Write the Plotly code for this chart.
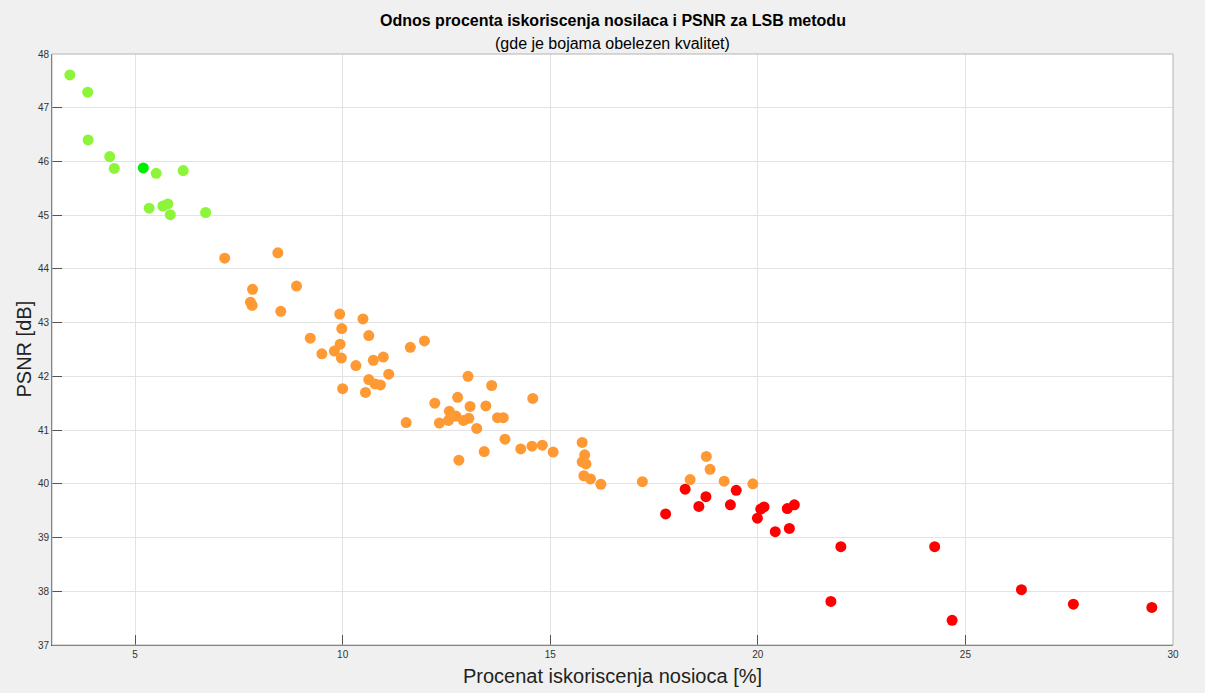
import plotly.graph_objects as go

# ---- data ----
x_green = [3.43, 3.86, 3.87, 4.39, 4.50, 5.51, 6.16, 5.34, 5.67, 5.79, 5.85, 6.70]
y_green = [47.61, 47.29, 46.40, 46.09, 45.87, 45.78, 45.83, 45.13, 45.17, 45.21, 45.01, 45.05]

x_bright = [5.20]
y_bright = [45.88]

x_orange = [7.16, 8.44, 7.83, 8.89, 7.78, 7.82, 8.51, 9.93, 10.49, 9.98, 10.63, 9.22,
            9.94, 9.50, 9.80, 9.97, 10.32, 10.74, 10.98, 11.63, 11.97, 11.11, 10.63, 10.78,
            10.91, 10.00, 10.55, 12.22, 13.02, 13.59, 12.77, 13.07, 13.45, 14.58, 11.53, 12.33,
            12.57, 12.55, 12.73, 12.91, 13.04, 13.23, 13.73, 13.87, 13.91, 14.29, 14.56, 14.81,
            15.07, 13.41, 12.80, 15.77, 15.83, 15.77, 15.86, 15.81, 15.97, 16.22, 17.22, 18.37,
            18.76, 18.85, 19.19, 19.88]
y_orange = [44.20, 44.30, 43.62, 43.68, 43.38, 43.32, 43.21, 43.16, 43.07, 42.89, 42.76, 42.71,
            42.60, 42.42, 42.47, 42.34, 42.20, 42.30, 42.36, 42.54, 42.66, 42.04, 41.94, 41.86,
            41.84, 41.77, 41.70, 41.50, 42.00, 41.83, 41.61, 41.44, 41.45, 41.59, 41.14, 41.13,
            41.35, 41.18, 41.26, 41.18, 41.22, 41.03, 41.23, 41.23, 40.83, 40.65, 40.70, 40.72,
            40.59, 40.60, 40.44, 40.77, 40.54, 40.41, 40.37, 40.15, 40.09, 39.99, 40.04, 40.08,
            40.51, 40.27, 40.05, 40.00]

x_red = [17.78, 18.25, 18.58, 18.75, 19.34, 19.48, 19.99, 20.07, 20.15, 20.42, 20.76, 20.71,
         20.88, 22.00, 24.26, 21.76, 24.68, 26.35, 27.60, 29.49]
y_red = [39.44, 39.90, 39.58, 39.76, 39.61, 39.88, 39.36, 39.53, 39.57, 39.11, 39.17, 39.54,
         39.61, 38.83, 38.83, 37.81, 37.46, 38.03, 37.76, 37.70]

x_ticks = [5, 10, 15, 20, 25, 30]
y_ticks = [37, 38, 39, 40, 41, 42, 43, 44, 45, 46, 47, 48]

title_text = "Odnos procenta iskoriscenja nosilaca i PSNR za LSB metodu"
subtitle_text = "(gde je bojama obelezen kvalitet)"
x_label = "Procenat iskoriscenja nosioca [%]"
y_label = "PSNR [dB]"

FONT = "Liberation Sans, Arial, Helvetica, sans-serif"

fig = go.Figure()
marker_size = 11
for xs, ys, col in [(x_green, y_green, "#8cf53a"),
                    (x_bright, y_bright, "#00ee00"),
                    (x_orange, y_orange, "#ff9933"),
                    (x_red, y_red, "#ff0000")]:
    fig.add_trace(go.Scatter(x=xs, y=ys, mode="markers",
                             marker=dict(size=marker_size, color=col, line=dict(width=0)),
                             showlegend=False, hoverinfo="x+y"))

axis_common = dict(showgrid=True, gridcolor="#e3e3e3", gridwidth=1,
                   zeroline=False, showline=True, linecolor="#555555", linewidth=1,
                   ticks="inside", ticklen=10, tickcolor="#555555", tickwidth=1,
                   tickfont=dict(family=FONT, size=10, color="#333333"))

fig.update_xaxes(range=[3, 30], tickvals=x_ticks, ticktext=[str(v) for v in x_ticks], **axis_common)
fig.update_yaxes(range=[37, 48], tickvals=y_ticks, ticktext=[str(v) for v in y_ticks], **axis_common)

fig.update_layout(
    width=1205, height=693,
    margin=dict(l=52, r=32, t=54, b=48),
    paper_bgcolor="#f0f0f0", plot_bgcolor="#ffffff",
    font=dict(family=FONT, color="#000000"),
    shapes=[dict(type="rect", xref="paper", yref="paper", x0=0, x1=1, y0=0, y1=1,
                 line=dict(color="#b4b4b4", width=1), layer="above")],
    annotations=[
        dict(text="<b>" + title_text + "</b>", xref="paper", yref="paper", x=0.5, y=1,
             xanchor="center", yanchor="middle", yshift=34, showarrow=False,
             font=dict(family=FONT, size=16, color="#000000")),
        dict(text=subtitle_text, xref="paper", yref="paper", x=0.5, y=1,
             xanchor="center", yanchor="middle", yshift=11, showarrow=False,
             font=dict(family=FONT, size=16, color="#000000")),
        dict(text=x_label, xref="paper", yref="paper", x=0.5, y=0,
             xanchor="center", yanchor="middle", yshift=-31, showarrow=False,
             font=dict(family=FONT, size=20, color="#222222")),
        dict(text=y_label, xref="paper", yref="paper", x=0, y=0.5,
             xanchor="center", yanchor="middle", xshift=-29, textangle=-90, showarrow=False,
             font=dict(family=FONT, size=20, color="#222222")),
    ],
)

fig.write_html("out.html")
